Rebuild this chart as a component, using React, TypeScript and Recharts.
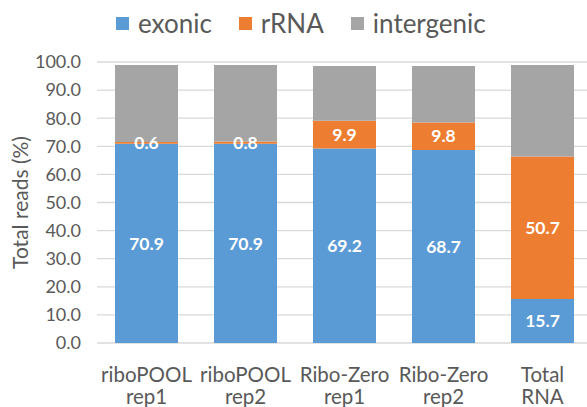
import React from "react";
import {
  BarChart,
  Bar,
  XAxis,
  YAxis,
  CartesianGrid,
  LabelList,
} from "recharts";

const categories = [
  "riboPOOL\nrep1",
  "riboPOOL\nrep2",
  "Ribo-Zero\nrep1",
  "Ribo-Zero\nrep2",
  "Total\nRNA",
];
const exonic = [70.9, 70.9, 69.2, 68.7, 15.7];
const rRNA = [0.6, 0.8, 9.9, 9.8, 50.7];
const intergenic = [27.4, 27.2, 19.5, 20.1, 32.5];
const yTicks = [0, 10, 20, 30, 40, 50, 60, 70, 80, 90, 100];

const seriesInfo = [
  { key: "exonic", color: "#5B9BD5" },
  { key: "rRNA", color: "#ED7D31" },
  { key: "intergenic", color: "#A5A5A5" },
];

const data = categories.map((c, i) => ({
  name: c,
  exonic: exonic[i],
  rRNA: rRNA[i],
  intergenic: intergenic[i],
}));

const FONT = "Lato, 'Open Sans', sans-serif";
const TEXT = "#595959";

function CatTick(props: any) {
  const { x, y, payload } = props;
  const lines = String(payload.value).split("\n");
  return (
    <text
      x={x}
      y={y}
      textAnchor="middle"
      fill={TEXT}
      fontSize={20.5}
      fontFamily={FONT}
    >
      {lines.map((l, i) => (
        <tspan key={i} x={x} dy={i === 0 ? 31 : 21.5}>
          {l}
        </tspan>
      ))}
    </text>
  );
}

function TopLegend() {
  return (
    <div
      style={{
        position: "absolute",
        top: 7,
        left: 116,
        display: "flex",
        fontFamily: FONT,
        fontSize: 26,
        lineHeight: "32px",
        color: TEXT,
        zIndex: 2,
      }}
    >
      {seriesInfo.map((s) => (
        <div
          key={s.key}
          style={{ display: "flex", alignItems: "center", marginRight: 27 }}
        >
          <span
            style={{
              width: 13,
              height: 13,
              background: s.color,
              display: "inline-block",
              marginRight: 9,
            }}
          />
          <span>{s.key}</span>
        </div>
      ))}
    </div>
  );
}

export default function App() {
  return (
    <div
      style={{
        position: "absolute",
        left: 0,
        top: 0,
        width: 587,
        height: 407,
        overflow: "hidden",
        background: "#fff",
      }}
    >
      <TopLegend />
      <BarChart
        width={595}
        height={407}
        data={data}
        margin={{ top: 62, right: 3, bottom: 0, left: 0 }}
        style={{ fontFamily: FONT }}
      >
        <CartesianGrid vertical={false} stroke="#D9D9D9" strokeWidth={1.3} />
        <XAxis
          dataKey="name"
          tick={<CatTick />}
          axisLine={false}
          tickLine={false}
          height={64}
          interval={0}
        />
        <YAxis
          domain={[0, 100]}
          ticks={yTicks}
          tickFormatter={(v: number) => v.toFixed(1)}
          tick={{ fill: TEXT, fontSize: 18, fontFamily: FONT }}
          axisLine={false}
          tickLine={false}
          tickSize={0}
          tickMargin={16}
          width={97}
          label={{
            value: "Total reads (%)",
            angle: -90,
            position: "insideLeft",
            dx: 16,
            style: {
              textAnchor: "middle",
              fill: TEXT,
              fontSize: 21,
              fontFamily: FONT,
            },
          }}
        />
        <Bar
          dataKey="exonic"
          stackId="a"
          fill="#5B9BD5"
          barSize={63}
          isAnimationActive={false}
        >
          <LabelList
            dataKey="exonic"
            position="center"
            fill="#fff"
            fontSize={17.5}
            fontWeight="bold"
            fontFamily={FONT}
            formatter={(v: any) => Number(v).toFixed(1)}
          />
        </Bar>
        <Bar
          dataKey="rRNA"
          stackId="a"
          fill="#ED7D31"
          barSize={63}
          isAnimationActive={false}
        >
          <LabelList
            dataKey="rRNA"
            position="center"
            fill="#fff"
            fontSize={17.5}
            fontWeight="bold"
            fontFamily={FONT}
            formatter={(v: any) => Number(v).toFixed(1)}
          />
        </Bar>
        <Bar
          dataKey="intergenic"
          stackId="a"
          fill="#A5A5A5"
          barSize={63}
          isAnimationActive={false}
        />
      </BarChart>
    </div>
  );
}
